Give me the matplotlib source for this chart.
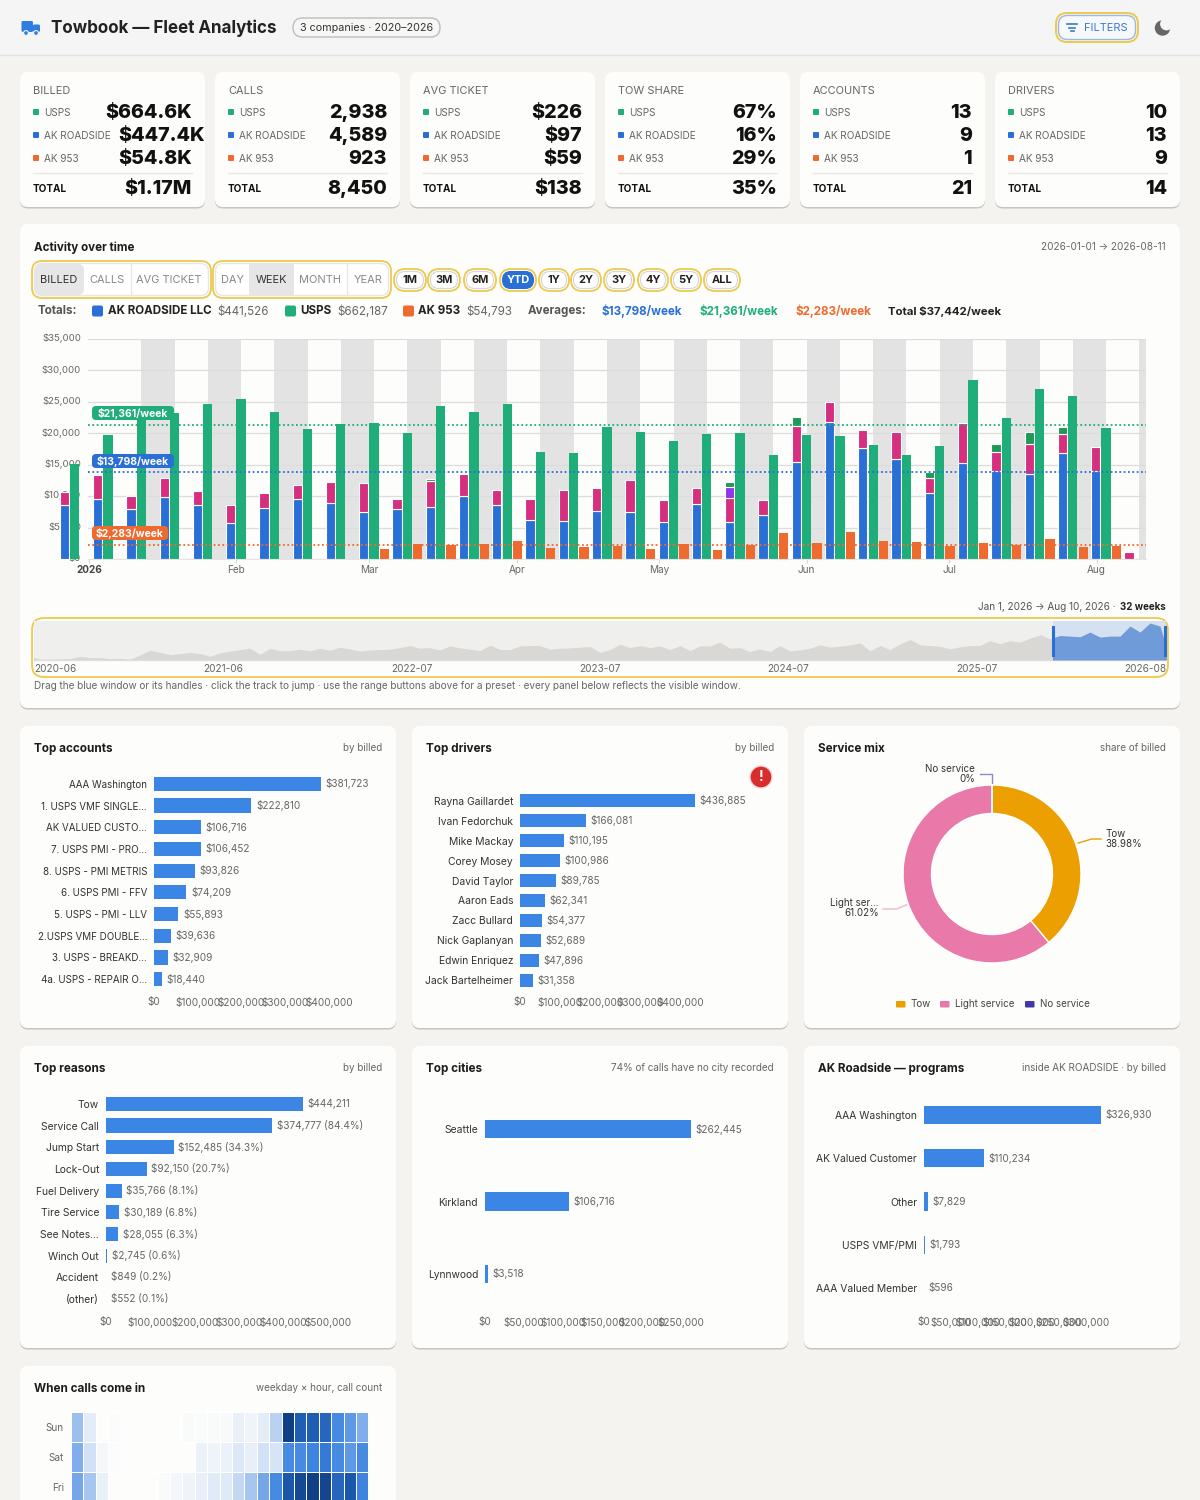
import numpy as np
import matplotlib
matplotlib.use("Agg")
import matplotlib.pyplot as plt
from matplotlib.patches import FancyBboxPatch, Rectangle, Circle
from matplotlib.colors import LinearSegmentedColormap
from matplotlib.transforms import ScaledTranslation

plt.rcParams['font.family'] = ['Inter', 'DejaVu Sans']

# ---- data ----
kpi_titles = ["BILLED", "CALLS", "AVG TICKET", "TOW SHARE", "ACCOUNTS", "DRIVERS"]
kpi_usps = ["$664.6K", "2,938", "$226", "67%", "13", "10"]
kpi_ak = ["$447.4K", "4,589", "$97", "16%", "9", "13"]
kpi_953 = ["$54.8K", "923", "$59", "29%", "1", "9"]
kpi_total = ["$1.17M", "8,450", "$138", "35%", "21", "14"]

week_blue = [8525, 9580, 7940, 9800, 8525, 5770, 8150, 9480, 8840, 7410, 7890, 8310, 10060, 8580, 6140, 5980, 7680,
             7470, 5820, 8740, 5820, 6940, 15460, 21810, 17690, 15890, 10430, 15200, 14030, 13450, 16840, 14030, 0]
week_pink = [2115, 3710, 2120, 3010, 2225, 2810, 2390, 2330, 3390, 4660, 1690, 4030, 3490, 2320, 3390, 4980, 3600,
             5130, 3500, 2540, 3820, 2430, 5720, 3230, 2800, 4390, 2490, 6510, 3020, 4870, 3120, 3810, 1110]
week_purple = [0]*20 + [1745] + [0]*12
week_dark = [0]*11 + [420] + [0]*8 + [845, 0, 1380, 0, 0, 0, 950, 0, 1270, 1910, 1110, 0, 0]
week_green = [15090, 19700, 22200, 23190, 24670, 25470, 23350, 20650, 21440, 21660, 20070, 24300, 23400, 24670, 17050,
              16890, 20970, 20230, 18740, 19860, 20020, 16570, 19750, 19540, 18060, 16520, 18000, 28490, 22450, 27110,
              26000, 20810, 0]
week_orange = [0]*9 + [1640, 2380, 2170, 2380, 2860, 1750, 1900, 2065, 1535, 2330, 1430, 2280, 4080, 2490, 4240, 2910,
                       2700, 2010, 2540, 2280, 3180, 1960, 2010, 0]
avg_values = [21361, 13798, 2283]
avg_labels = ["$21,361/week", "$13,798/week", "$2,283/week"]
month_days = [0, 31, 59, 90, 120, 151, 181, 212]
month_names = ["2026", "Feb", "Mar", "Apr", "May", "Jun", "Jul", "Aug"]

# whole history, $K per week
overview_k = [4.6, .9, .9, 1.3, 1.6, 4.6, 2.9, 2.9, 1.6, 2.1, .9, 6.3, 12.1, 9.6, 6.6, 7.9, 9.6, 7.9, 4.6, 8.8, 10.9,
              12.9, 14.6, 7.1, 14.6, 11.3, 11.6, 13.4, 11.3, 14.6, 12.1, 15.9, 13.8, 10.9, 12.5, 12.9, 13.4, 15.4, 17.9,
              14.6, 15.4, 12.5, 17.5, 15.0, 13.4, 11.6, 18.4, 12.9, 12.9, 17.5, 17.9, 17.9, 13.4, 14.6, 15.0, 15.9, 16.6,
              9.6, 12.9, 19.6, 15.4, 17.9, 15.4, 17.5, 12.9, 17.9, 11.6, 17.5, 17.5, 22.1, 14.6, 15.4, 10.4, 13.8, 10.4,
              17.9, 11.3, 12.5, 14.6, 18.8, 15.9, 17.1, 18.8, 21.3, 11.3, 17.9, 12.9, 20.0, 25.4, 18.8, 17.9, 17.1, 13.8,
              16.3, 17.9, 17.9, 24.1, 20.0, 24.1, 22.1, 27.1, 31.3, 26.3, 30.4, 29.6, 28.8, 34.6, 28.4, 29.6, 29.6, 42.1,
              34.6, 45.9, 42.1, 1.0]
overview_ticks = ["2020-06", "2021-06", "2022-07", "2023-07", "2024-07", "2025-07", "2026-08"]

acct_names = ["AAA Washington", "1. USPS VMF SINGLE...", "AK VALUED CUSTO...", "7. USPS PMI - PRO...", "8. USPS - PMI METRIS",
              "6. USPS PMI - FFV", "5. USPS - PMI - LLV", "2.USPS VMF DOUBLE...", "3. USPS - BREAKD...", "4a. USPS - REPAIR O..."]
acct_vals = [381723, 222810, 106716, 106452, 93826, 74209, 55893, 39636, 32909, 18440]
driver_names = ["Rayna Gaillardet", "Ivan Fedorchuk", "Mike Mackay", "Corey Mosey", "David Taylor", "Aaron Eads",
                "Zacc Bullard", "Nick Gaplanyan", "Edwin Enriquez", "Jack Bartelheimer"]
driver_vals = [436885, 166081, 110195, 100986, 89785, 62341, 54377, 52689, 47896, 31358]
reason_names = ["Tow", "Service Call", "Jump Start", "Lock-Out", "Fuel Delivery", "Tire Service", "See Notes...",
                "Winch Out", "Accident", "(other)"]
reason_vals = [444211, 374777, 152485, 92150, 35766, 30189, 28055, 2745, 849, 552]
reason_pct = ["", " (84.4%)", " (34.3%)", " (20.7%)", " (8.1%)", " (6.8%)", " (6.3%)", " (0.6%)", " (0.2%)", " (0.1%)"]
city_names = ["Seattle", "Kirkland", "Lynnwood"]
city_vals = [262445, 106716, 3518]
prog_names = ["AAA Washington", "AK Valued Customer", "Other", "USPS VMF/PMI", "AAA Valued Member"]
prog_vals = [326930, 110234, 7829, 1793, 596]

mix_names = ["Tow", "Light service", "No service"]
mix_share = [38.98, 61.02, 0.0]
mix_colors = ["#ec9f00", "#e879a8", "#4338a8"]

heat_days = ["Sun", "Sat", "Fri"]
heat_sun = [.42, .12, 0, .01, 0, 0, 0, 0, 0, .02, .02, .02, .03, .09, .07, .12, .3, 1.0, .85, .85, .8, .6, .55, .48]
heat_sat = [.48, .2, .04, .01, 0, 0, 0, 0, 0, 0, .08, .07, .08, .15, .1, .2, .18, .6, .6, .62, .68, .6, .55, .6]
heat_fri = [.5, .38, .09, 0, 0, 0, 0, .02, .05, .07, .1, .13, .14, .26, .38, .5, .6, .88, .95, 1.0, .97, .8, .88, .62]

# ---- colours ----
BG = "#f4f3f0"
CARD = "#fdfdfb"
INK = "#1c1c1c"
GREY = "#666666"
GOLD = "#ecc94f"
BLUE = "#2a6fd6"
GREEN = "#1fae7a"
ORANGE = "#ef6a2e"
PINK = "#d62f7f"
BAR = "#3b86e4"
PT = 0.72  # px to points at dpi 100

fig = plt.figure(figsize=(12, 15), dpi=100, facecolor=BG)


def px_axes(x0, y0, x1, y1, zorder=2):
    ax = fig.add_axes([x0/1200, 1-y1/1500, (x1-x0)/1200, (y1-y0)/1500], zorder=zorder)
    ax.patch.set_visible(False)
    return ax


def overlay(zorder):
    ax = px_axes(0, 0, 1200, 1500, zorder)
    ax.set_xlim(0, 1200)
    ax.set_ylim(1500, 0)
    ax.axis('off')
    return ax


bg = overlay(0)
fg = overlay(10)


def rbox(ax, x0, y0, x1, y1, r, fc, ec='none', lw=0, z=2):
    ax.add_patch(FancyBboxPatch((x0+r, y0+r), x1-x0-2*r, y1-y0-2*r, boxstyle=f"round,pad={r},rounding_size={r}",
                                fc=fc, ec=ec, lw=lw, zorder=z))


def card(x0, y0, x1, y1):
    rbox(bg, x0, y0+2, x1, y1+1.5, 8, "#c6c5c2", z=1)
    rbox(bg, x0, y0, x1, y1, 8, CARD, z=2)


def txt(x, y, s, px=11, color=GREY, ha='left', weight='normal', ax=None, z=5):
    (ax or bg).text(x, y+.8, s, fontsize=px*PT, color=color, ha=ha, va='center', fontweight=weight, zorder=z)


# ---- header ----
bg.add_patch(Rectangle((0, 0), 1200, 54, fc="#f5f5f5", ec='none', zorder=1))
bg.plot([0, 1200], [54.5, 54.5], color="#e4e4e2", lw=1, zorder=1)
rbox(bg, 21.5, 21, 33, 32, 1.5, "#2f7de1", z=3)
rbox(bg, 33, 24.5, 40, 32, 1.5, "#2f7de1", z=3)
bg.add_patch(Circle((26, 33), 2.4, fc="#2f7de1", ec="#f5f5f5", lw=.8, zorder=4))
bg.add_patch(Circle((36, 33), 2.4, fc="#2f7de1", ec="#f5f5f5", lw=.8, zorder=4))
txt(51, 27, "Towbook — Fleet Analytics", 17, "#222222", weight='bold')
rbox(bg, 293, 18, 440, 37, 9.5, "#f7f7f6", ec="#bdbdbd", lw=1, z=3)
txt(366.5, 27, "3 companies · 2020–2026", 10.8, "#333333", ha='center')
rbox(bg, 1056, 13, 1138, 42, 11, "#f5f5f5", ec=GOLD, lw=1.4, z=3)
rbox(bg, 1058.5, 15.5, 1135.5, 39.5, 9, "#f7f8fa", ec="#9db9de", lw=1, z=3)
for x0, x1, yy in [(1067, 1077, 24), (1069, 1075, 27.5), (1070.5, 1073.5, 31)]:
    bg.plot([x0, x1], [yy, yy], color="#3b78d0", lw=1.2, zorder=4)
txt(1106, 27.5, "FILTERS", 11, "#3b78d0", ha='center')
bg.add_patch(Circle((1162.5, 28), 7.7, fc="#666666", ec='none', zorder=3))
bg.add_patch(Circle((1166.5, 24), 6.4, fc="#f5f5f5", ec='none', zorder=4))

# ---- KPI cards ----
sq_colors = [GREEN, BLUE, ORANGE]
sq_names = ["USPS", "AK ROADSIDE", "AK 953"]
for i, title in enumerate(kpi_titles):
    x = 20 + 195*i
    card(x, 72, x+185, 207)
    txt(x+13, 90, title, 11, "#666666")
    rows = [kpi_usps[i], kpi_ak[i], kpi_953[i]]
    for c, name, val, yy in zip(sq_colors, sq_names, rows, [112, 135, 158]):
        rbox(bg, x+13, yy-3, x+19, yy+3, 1, c, z=3)
        txt(x+24, yy, name, 10, "#666666")
        rx = x+172
        if val == "$447.4K":
            rx = x+184.5  # overflows the cell in the original
        txt(rx, yy, val, 19.7, "#111111", ha='right', weight=800)
    bg.plot([x+13, x+172], [173, 173], color="#e8e8e6", lw=1, zorder=3)
    txt(x+13, 188.5, "TOTAL", 10, "#111111", weight='bold')
    txt(x+172, 188.5, kpi_total[i], 19.7, "#111111", ha='right', weight=800)

# ---- activity card ----
card(20, 224, 1180, 708)
txt(34, 247, "Activity over time", 11.6, INK, weight='bold')
txt(1166, 246.5, "2026-01-01 → 2026-08-11", 10, "#666666", ha='right')

# button groups
rbox(bg, 32, 261, 211, 298, 10, CARD, ec=GOLD, lw=1.3, z=3)
rbox(bg, 34.5, 263.5, 208.5, 295.5, 8, "#ffffff", ec="#e6e6e4", lw=1, z=3)
rbox(bg, 35, 264, 84, 295, 6, "#e6e6e6", z=3)
bg.plot([131, 131], [264, 295], color="#e6e6e4", lw=1, zorder=3)
for s, cx, c in [("BILLED", 59, "#333333"), ("CALLS", 107, "#888888"), ("AVG TICKET", 169, "#888888")]:
    txt(cx, 279.5, s, 11, c, ha='center')
rbox(bg, 213, 261, 391, 298, 10, CARD, ec=GOLD, lw=1.3, z=3)
rbox(bg, 215.5, 263.5, 388.5, 295.5, 8, "#ffffff", ec="#e6e6e4", lw=1, z=3)
bg.add_patch(Rectangle((249, 264), 45, 31, fc="#e6e6e6", ec='none', zorder=3))
bg.plot([347, 347], [264, 295], color="#e6e6e4", lw=1, zorder=3)
for s, cx, c in [("DAY", 232, "#888888"), ("WEEK", 271, "#333333"), ("MONTH", 320, "#888888"), ("YEAR", 368, "#888888")]:
    txt(cx, 279.5, s, 11, c, ha='center')
range_btn = ["1M", "3M", "6M", "YTD", "1Y", "2Y", "3Y", "4Y", "5Y", "ALL"]
btn_cx = [410, 444, 480, 518, 554, 586, 619, 653, 686, 722]
btn_hw = [16, 16, 16, 18, 15, 15, 15, 15, 15, 18]
for s, cx, hw in zip(range_btn, btn_cx, btn_hw):
    rbox(bg, cx-hw, 269, cx+hw, 291, 11, CARD, ec=GOLD, lw=1.3, z=3)
    on = s == "YTD"
    rbox(bg, cx-hw+2.5, 271.5, cx+hw-2.5, 288.5, 8.5, BLUE if on else "#ffffff", ec=BLUE if on else "#d6d6d6", lw=.8, z=3)
    txt(cx, 279.5, s, 11, "white" if on else "#222222", ha='center', weight='bold')

# totals line
txt(38, 310.5, "Totals:", 11.6, "#555555", weight='bold')
for sx, c, name, nx, val, vx in [(92, BLUE, "AK ROADSIDE LLC", 108, "$441,526", 217),
                                 (285, GREEN, "USPS", 300, "$662,187", 337),
                                 (403, ORANGE, "AK 953", 418, "$54,793", 466)]:
    rbox(bg, sx, 305.5, sx+11, 316.5, 2, c, z=3)
    txt(nx, 310.5, name, 11.6, "#222222", weight='bold')
    txt(vx, 310.5, val, 11.6, "#666666")
txt(528, 310.5, "Averages:", 11.6, "#555555", weight='bold')
txt(602, 310.5, "$13,798/week", 11.6, BLUE, weight='bold')
txt(699, 310.5, "$21,361/week", 11.6, GREEN, weight='bold')
txt(795, 310.5, "$2,283/week", 11.6, ORANGE, weight='bold')
txt(888, 310.5, "Total $37,442/week", 11.4, "#222222", weight='bold')

# main weekly chart
ax = px_axes(88, 339, 1146, 559, 5)
week_day = -3 + 7*np.arange(len(week_blue))
for start in range(11, 222, 14):
    ax.axvspan(start, start+7, color="#e3e3e4", lw=0, zorder=0.2)
SIDE = 2.18
W = 1.95


def draw_bars(xs, vals, bottoms, color, edge=True):
    vals = np.array(vals, float)
    keep = vals > 0
    ax.bar(xs[keep], vals[keep], W, bottom=np.array(bottoms)[keep], color=color,
           edgecolor="white" if edge else 'none', linewidth=.8 if edge else 0, clip_on=False, zorder=2)


base = np.zeros(len(week_blue))
for vals, color in [(week_blue, BLUE), (week_pink, PINK), (week_purple, "#9333ea"), (week_dark, "#1d9a55")]:
    draw_bars(week_day-SIDE, vals, base, color)
    base = base + np.array(vals)
draw_bars(week_day, week_green, np.zeros(len(week_blue)), GREEN, edge=False)
draw_bars(week_day+SIDE, week_orange, np.zeros(len(week_blue)), ORANGE, edge=False)
for v, c in zip(avg_values, [GREEN, BLUE, ORANGE]):
    ax.axhline(v, color=c, lw=1.3, ls=(0, (1, 1.4)), zorder=3)
ax.set_xlim(-0.2, 222.4)
ax.set_ylim(0, 35000)
ax.set_yticks(np.arange(0, 35001, 5000))
ax.set_yticklabels([f"${v:,}" for v in np.arange(0, 35001, 5000)], fontsize=9.6*PT, color="#666666")
ax.set_xticks(month_days)
ax.set_xticklabels(month_names, fontsize=10*PT, color="#666666")
ax.get_xticklabels()[0].set_fontweight('bold')
ax.get_xticklabels()[0].set_color("#444444")
ax.tick_params(axis='y', length=0, pad=5)
ax.tick_params(axis='x', length=3, color="#d8d8d8", pad=1.5)
up = ScaledTranslation(0, 1.5/100, fig.dpi_scale_trans)
for lab in ax.get_yticklabels():
    lab.set_transform(lab.get_transform()+up)
ax.grid(axis='y', color="#dcdcdc", lw=.9)
ax.set_axisbelow(True)
for s in ax.spines.values():
    s.set_visible(False)
ax.spines['bottom'].set_visible(True)
ax.spines['bottom'].set_color("#e4e4e4")
for lab, c, y0, y1, x1 in zip(avg_labels, [GREEN, BLUE, ORANGE], [406, 454, 526], [420, 468, 540], [174, 174, 168]):
    rbox(fg, 92, y0, x1, y1, 4, c, z=3)
    txt((92+x1)/2, (y0+y1)/2-.4, lab, 10.4, "white", ha='center', weight='bold', ax=fg)

# overview strip
txt(1116, 606.5, "Jan 1, 2026 → Aug 10, 2026 ·", 10, "#555555", ha='right')
txt(1166, 606.5, "32 weeks", 9.8, "#222222", ha='right', weight='bold')
rbox(bg, 32, 618, 1168, 677, 12, CARD, ec=GOLD, lw=1.3, z=3)
bg.add_patch(Rectangle((34, 621), 1132, 39, fc="#efefee", ec='none', zorder=3))
ov = px_axes(34, 621, 1166, 660, 6)
xs = np.arange(len(overview_k))
win = 102.3
ov.axvspan(win, xs[-1], color="#d3e1f3", lw=0, zorder=1)
ov.fill_between(xs, overview_k, color="#d9d8d5", lw=0, zorder=2)
blue_part = ov.fill_between(xs, overview_k, color="#6f9bd8", lw=0, zorder=3)
blue_part.set_clip_path(Rectangle((win, 0), 11.3, 48.4, transform=ov.transData))
ov.set_xlim(0.4, 113.6)
ov.set_ylim(0, 48.4)
ov.axis('off')
bg.plot([34, 1166], [660, 660], color="#e6e6e4", lw=1, zorder=4)
fg.plot([1053, 1053], [627, 655], color=BLUE, lw=2.2)
fg.plot([1165, 1165], [627, 655], color=BLUE, lw=2.2)
for s, cx in zip(overview_ticks[1:-1], [223, 412, 600, 788, 977]):
    txt(cx, 668, s, 10, "#666666", ha='center')
txt(34, 668, overview_ticks[0], 10, "#666666")
txt(1166, 668, overview_ticks[-1], 10, "#666666", ha='right')
txt(34, 685.5, "Drag the blue window or its handles · click the track to jump · use the range buttons above for a preset · every panel below reflects the visible window.", 10, "#666666")


# ---- bar panels ----
def panel(x0, y0, title, sub):
    x1 = x0+376
    card(x0, y0, x1, y0+302)
    txt(x0+14.5, y0+22, title, 11.7, INK, weight='bold')
    txt(x1-14, y0+21.5, sub, 9.9, "#666666", ha='right')


def hbars(x0, x1, y0, y1, names, vals, xmax, step, height, labels=None, name_px=10.3):
    a = px_axes(x0, y0, x1, y1, 5)
    pos = np.arange(len(names))
    a.barh(pos, vals, height, color=BAR, clip_on=False)
    labels = labels or [f"${v:,}" for v in vals]
    for p, v, lab in zip(pos, vals, labels):
        a.annotate(lab, (v, p), xytext=(4.5*PT, 0), textcoords='offset points', va='center',
                   fontsize=10*PT, color="#666666", annotation_clip=False)
    a.set_xlim(0, xmax)
    a.set_ylim(len(names)-.5, -.5)
    a.set_yticks(pos)
    a.set_yticklabels(names, fontsize=name_px*PT, color="#333333")
    ticks = np.arange(0, xmax+1, step)
    a.set_xticks(ticks)
    a.set_xticklabels([f"${t:,}" for t in ticks], fontsize=10*PT, color="#666666")
    a.tick_params(length=0, pad=5)
    a.tick_params(axis='y', pad=5)
    for s in a.spines.values():
        s.set_visible(False)
    return a


panel(20, 726, "Top accounts", "by billed")
hbars(154, 329, 773, 990, acct_names, acct_vals, 400000, 100000, .65, name_px=9.8)
panel(412, 726, "Top drivers", "by billed")
hbars(520, 680, 791, 990, driver_names, driver_vals, 400000, 100000, .65)
fg.add_patch(Circle((761, 777), 11, fc="#d92c2c", ec='#f3d5d5', lw=1))
txt(761, 776, "!", 14, "white", ha='center', weight='bold', ax=fg)

panel(20, 1046, "Top reasons", "by billed")
hbars(106, 328, 1093, 1310, reason_names, reason_vals, 500000, 100000, .65,
      labels=[f"${v:,}{p}" for v, p in zip(reason_vals, reason_pct)])
panel(412, 1046, "Top cities", "74% of calls have no city recorded")
hbars(485, 681, 1093, 1310, city_names, city_vals, 250000, 50000, .25)
panel(804, 1046, "AK Roadside — programs", "inside AK ROADSIDE · by billed")
hbars(924, 1086, 1093, 1310, prog_names, prog_vals, 300000, 50000, .42)

# ---- service mix ----
panel(804, 726, "Service mix", "share of billed")
d = px_axes(903, 785, 1081, 963, 5)
d.pie(mix_share, colors=mix_colors, startangle=90, counterclock=False, radius=1,
      wedgeprops=dict(width=.32, edgecolor="white", linewidth=1))
d.set_xlim(-1, 1)
d.set_ylim(-1, 1)
bg.plot([1078.3, 1091.7, 1101], [843, 839, 839], color=mix_colors[0], lw=1, zorder=4)
bg.plot([906.7, 896.7, 883], [904.7, 909, 909], color="#f2b6cf", lw=1, zorder=4)
bg.plot([992.3, 992.3, 980], [783.3, 774.3, 774.3], color="#8f88c8", lw=1, zorder=4)
for y0, y1, x, ha, a, b in [(833, 843, 1105, 'left', "Tow", "38.98%"),
                            (902.5, 912.5, 879, 'right', "Light ser...", "61.02%"),
                            (768.5, 778.5, 975, 'right', "No service", "0%")]:
    txt(x, y0, a, 9.8, "#333333", ha=ha)
    txt(x, y1, b, 9.8, "#333333", ha=ha)
for name, c, sx, tx in zip(mix_names, mix_colors, [896, 940, 1025], [910, 955, 1040]):
    rbox(bg, sx, 1001, sx+9.5, 1007.5, 1, c, z=3)
    txt(tx, 1003.5, name, 9.8, "#444444")

# ---- heatmap (cut off by the page bottom) ----
card(20, 1366, 396, 1540)
txt(34, 1388, "When calls come in", 11.7, INK, weight='bold')
txt(382, 1387.5, "weekday × hour, call count", 9.9, "#666666", ha='right')
h = px_axes(71, 1412, 368.3, 1501.4, 5)
blues = LinearSegmentedColormap.from_list("calls", [(0, "#fdfdfb"), (.2, "#d2e1f5"), (.42, "#9cc0ee"),
                                                    (.62, "#3d84e0"), (.85, "#1f5fb3"), (1, "#113f85")], N=256)
grid = np.array([heat_sun, heat_sat, heat_fri])
h.pcolormesh(grid, cmap=blues, vmin=0, vmax=1, edgecolors="white", linewidth=.7)
h.set_ylim(3, 0)
h.set_xticks([])
h.set_yticks(np.arange(3)+.5)
h.set_yticklabels(heat_days, fontsize=10*PT, color="#666666")
h.tick_params(length=0, pad=5)
for s in h.spines.values():
    s.set_visible(False)

fig.savefig("out.png", dpi=100, facecolor=BG)
